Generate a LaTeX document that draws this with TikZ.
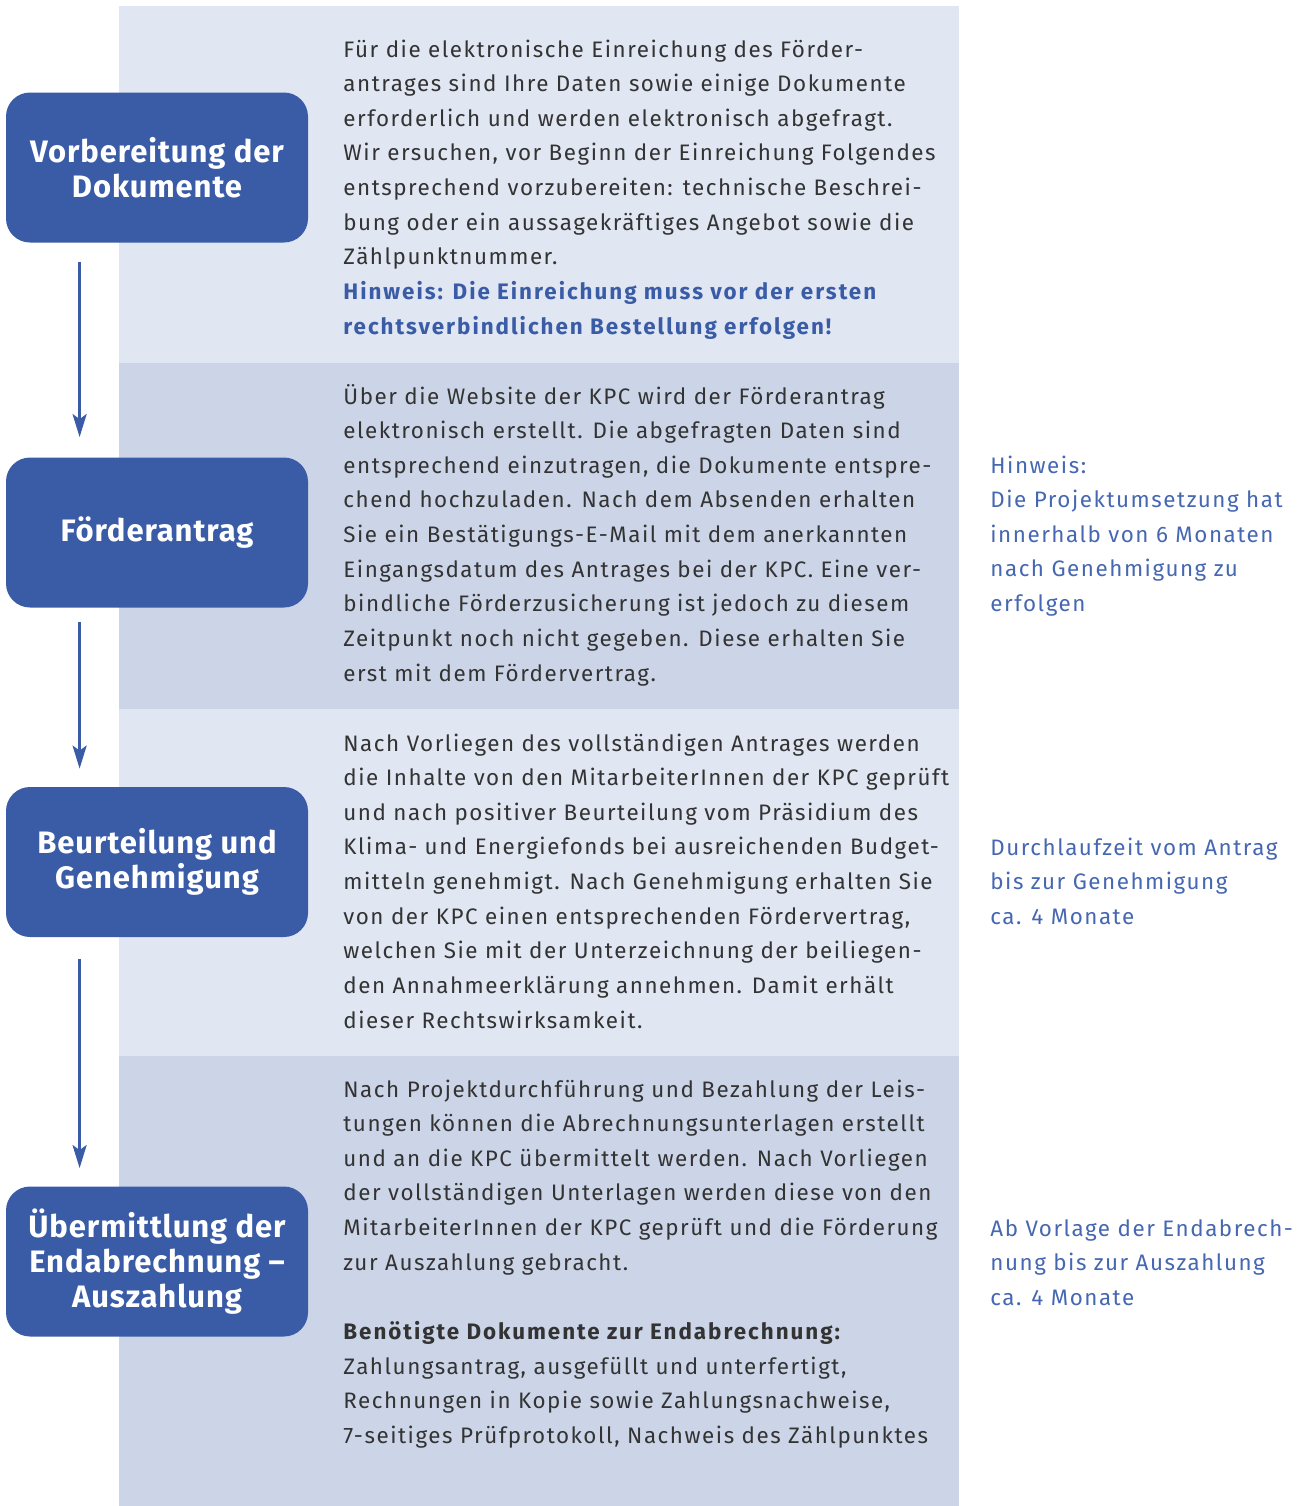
\documentclass[tikz,border=0pt]{standalone}
\usepackage{fontspec}
\setmainfont{Fira Sans}[LetterSpace=6.8, BoldFeatures={LetterSpace=8.8}]
\newfontfamily\titlefont{Fira Sans}[LetterSpace=3.0]
\usetikzlibrary{arrows.meta}

\definecolor{kpcblue}{HTML}{3A5CA7}
\definecolor{notblue}{HTML}{4667B1}
\definecolor{bandlight}{HTML}{E0E6F2}
\definecolor{banddark}{HTML}{CCD5E8}
\definecolor{bodygray}{HTML}{333333}

\newcommand\bodyfont{\fontsize{11.2pt}{17.32pt}\selectfont}
\newcommand\parabox[1]{\begin{minipage}[t]{330pt}\bodyfont\raggedright\parindent0pt #1\end{minipage}}
\newcommand\notebox[1]{\begin{minipage}[t]{160pt}\bodyfont\raggedright\parindent0pt #1\end{minipage}}

\tikzset{
  stepbox/.style={draw=none, fill=kpcblue, rounded corners=12pt,
    minimum width=151pt, minimum height=75pt, inner sep=0pt,
    text=white, align=center,
    font=\titlefont\fontsize{15.5pt}{17.5pt}\selectfont\bfseries},
  para/.style={anchor=base west, inner sep=0pt, text=bodygray},
  note/.style={anchor=base west, inner sep=0pt, text=notblue},
  flow/.style={draw=kpcblue, line width=1.5pt,
    -{Stealth[length=11.5pt, width=7pt, inset=2.5pt]}},
}

\begin{document}
\begin{tikzpicture}[x=0.5pt, y=-0.5pt]
  \useasboundingbox (0,0) rectangle (1298,1506);

  % background bands of the text column
  \fill[bandlight] (119,6)    rectangle (959,363);
  \fill[banddark]  (119,363)  rectangle (959,709);
  \fill[bandlight] (119,709)  rectangle (959,1056);
  \fill[banddark]  (119,1056) rectangle (959,1506);

  % process steps
  \node[stepbox] (b1) at (157,167.5)  {Vorbereitung der\\Dokumente};
  \node[stepbox] (b2) at (157,532.5)  {Förderantrag};
  \node[stepbox] (b3) at (157,862)    {Beurteilung und\\Genehmigung};
  \node[stepbox] (b4) at (157,1261.5) {Übermittlung der\\Endabrechnung –\\Auszahlung};

  % connectors between the steps
  \draw[flow] ([xshift=37pt, yshift=-9.5pt]b1.south west) -- ([xshift=37pt, yshift=10pt]b2.north west);
  \draw[flow] ([xshift=37pt, yshift=-7pt]b2.south west) -- ([xshift=37pt, yshift=9pt]b3.north west);
  \draw[flow] ([xshift=37pt, yshift=-11pt]b3.south west) -- ([xshift=37pt, yshift=9pt]b4.north west);

  % descriptions
  \node[para] (t1) at (343,57) {\parabox{%
    Für die elektronische Einreichung des Förder-\\
    antrages sind Ihre Daten sowie einige Dokumente\\
    erforderlich und werden elektronisch abgefragt.\\
    Wir ersuchen, vor Beginn der Einreichung Folgendes\\
    entsprechend vorzubereiten: technische Beschrei-\\
    bung oder ein aussagekräftiges Angebot sowie die\\
    Zählpunktnummer.\\
    {\color{kpcblue}\bfseries Hinweis: Die Einreichung muss vor der ersten}\\
    {\color{kpcblue}\bfseries rechtsverbindlichen Bestellung erfolgen!}}};

  \node[para] (t2) at (343,404) {\parabox{%
    Über die Website der KPC wird der Förderantrag\\
    elektronisch erstellt. Die abgefragten Daten sind\\
    entsprechend einzutragen, die Dokumente entspre-\\
    chend hochzuladen. Nach dem Absenden erhalten\\
    Sie ein Bestätigungs-E-Mail mit dem anerkannten\\
    Eingangsdatum des Antrages bei der KPC. Eine ver-\\
    bindliche Förderzusicherung ist jedoch zu diesem\\
    Zeitpunkt noch nicht gegeben. Diese erhalten Sie\\
    erst mit dem Fördervertrag.}};

  \node[para] (t3) at (343,751) {\parabox{%
    Nach Vorliegen des vollständigen Antrages werden\\
    die Inhalte von den MitarbeiterInnen der KPC geprüft\\
    und nach positiver Beurteilung vom Präsidium des\\
    Klima- und Energiefonds bei ausreichenden Budget-\\
    mitteln genehmigt. Nach Genehmigung erhalten Sie\\
    von der KPC einen entsprechenden Fördervertrag,\\
    welchen Sie mit der Unterzeichnung der beiliegen-\\
    den Annahmeerklärung annehmen. Damit erhält\\
    dieser Rechtswirksamkeit.}};

  \node[para] (t4) at (343,1097) {\parabox{%
    Nach Projektdurchführung und Bezahlung der Leis-\\
    tungen können die Abrechnungsunterlagen erstellt\\
    und an die KPC übermittelt werden. Nach Vorliegen\\
    der vollständigen Unterlagen werden diese von den\\
    MitarbeiterInnen der KPC geprüft und die Förderung\\
    zur Auszahlung gebracht.\\[17.32pt]
    {\bfseries Benötigte Dokumente zur Endabrechnung:}\\
    Zahlungsantrag, ausgefüllt und unterfertigt,\\
    Rechnungen in Kopie sowie Zahlungsnachweise,\\
    7-seitiges Prüfprotokoll, Nachweis des Zählpunktes}};

  % side notes
  \node[note] (n2) at (990,473) {\notebox{%
    Hinweis:\\
    Die Projektumsetzung hat\\
    innerhalb von 6 Monaten\\
    nach Genehmigung zu\\
    erfolgen}};
  \node[note] (n3) at (990,855) {\notebox{%
    Durchlaufzeit vom Antrag\\
    bis zur Genehmigung\\
    ca. 4 Monate}};
  \node[note] (n4) at (990,1236) {\notebox{%
    Ab Vorlage der Endabrech-\\
    nung bis zur Auszahlung\\
    ca. 4 Monate}};
\end{tikzpicture}
\end{document}
